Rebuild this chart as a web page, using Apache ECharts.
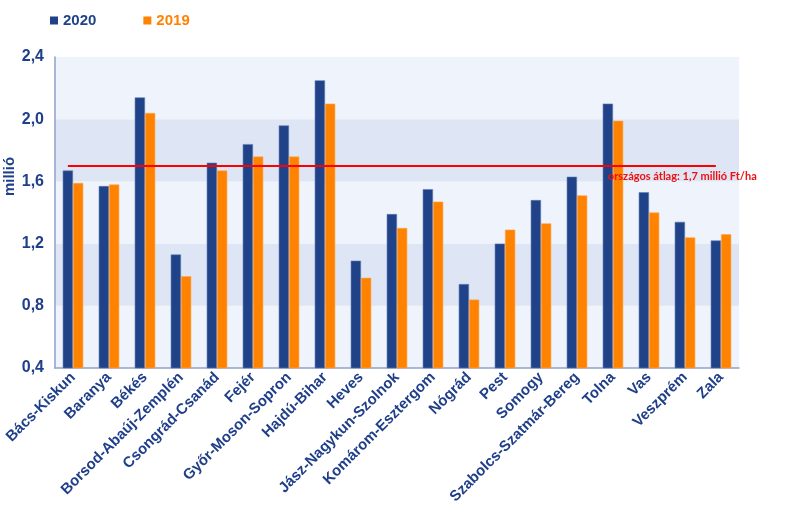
<!DOCTYPE html>
<html><head><meta charset="utf-8">
<script src="https://cdn.jsdelivr.net/npm/echarts@6/dist/echarts.min.js"></script>
<style>html,body{margin:0;padding:0;background:#fff}#c{width:800px;height:522px}</style>
</head><body><div id="c"></div>
<script>
var categories = ['Bács-Kiskun','Baranya','Békés','Borsod-Abaúj-Zemplén','Csongrád-Csanád','Fejér','Győr-Moson-Sopron','Hajdú-Bihar','Heves','Jász-Nagykun-Szolnok','Komárom-Esztergom','Nógrád','Pest','Somogy','Szabolcs-Szatmár-Bereg','Tolna','Vas','Veszprém','Zala'];
var values2020 = [1.67,1.57,2.14,1.13,1.72,1.84,1.96,2.25,1.09,1.39,1.55,0.94,1.20,1.48,1.63,2.10,1.53,1.34,1.22];
var values2019 = [1.59,1.58,2.04,0.99,1.67,1.76,1.76,2.10,0.98,1.30,1.47,0.84,1.29,1.33,1.51,1.99,1.40,1.24,1.26];
var average = 1.7;
var averageLabel = 'országos átlag: 1,7 millió Ft/ha';
var yTicks = [0.4, 0.8, 1.2, 1.6, 2.0, 2.4];
var seriesNames = ['2020', '2019'];

var blue = '#1f4288', orange = '#ff8200', txt = '#1f3f8a';
var chart = echarts.init(document.getElementById('c'), null, {renderer:'canvas'});
chart.setOption({
  animation: false,
  textStyle: {fontFamily: 'Liberation Sans, Arial, sans-serif'},
  legend: {
    data: [
      {name: seriesNames[0], textStyle: {color: blue}, itemStyle: {color: blue, borderWidth: 0}},
      {name: seriesNames[1], textStyle: {color: orange}, itemStyle: {color: orange, borderWidth: 0}}
    ],
    left: 45, top: 8, itemWidth: 8, itemHeight: 8, itemGap: 47,
    icon: 'rect',
    textStyle: {fontSize: 15, fontWeight: 'bold'}
  },
  grid: {left: 55, right: 61, top: 57, bottom: 154, containLabel: false, outerBoundsMode: 'none'},
  xAxis: {
    type: 'category', data: categories,
    axisLine: {lineStyle: {color: '#8fa2c8', width: 1.5}},
    axisTick: {show: false},
    axisLabel: {interval: 0, rotate: 45, fontSize: 15, fontWeight: 'bold', color: txt, margin: 7}
  },
  yAxis: {
    type: 'value', min: yTicks[0], max: yTicks[yTicks.length-1], interval: 0.4,
    name: 'millió', nameLocation: 'middle', nameRotate: 90, nameGap: 38, nameMoveOverlap: false,
    nameTextStyle: {fontSize: 15, fontWeight: 'bold', color: txt, padding: [0,0,0,72]},
    axisLine: {show: true, lineStyle: {color: '#8fa2c8', width: 1.5}},
    axisTick: {show: false},
    splitLine: {show: false},
    splitArea: {show: true, areaStyle: {color: ['#eff3fb', '#dee5f4']}},
    axisLabel: {fontSize: 16, fontWeight: 'bold', color: txt, margin: 11,
      formatter: function(v){ return v.toFixed(1).replace('.', ','); }}
  },
  series: [
    {name: seriesNames[0], type: 'bar', data: values2020, barGap: '0%', barCategoryGap: '43%',
     itemStyle: {color: blue, borderColor: '#5f7bb5', borderWidth: 0.6},
     markLine: {
       symbol: 'none', silent: true,
       lineStyle: {color: '#ff0000', width: 2, type: 'solid'},
       label: {show: false},
       data: [[{coord: [categories[0], average]}, {coord: [categories[categories.length-1], average]}]]
     },
     markPoint: {
       symbol: 'rect', symbolSize: 0, silent: true,
       label: {show: true, position: 'bottom', distance: 5, align: 'left', offset: [0, 0],
         formatter: averageLabel,
         color: '#f01010', fontSize: 11, fontWeight: 'bold', fontFamily: 'Lato, sans-serif'},
       data: [{coord: ['Tolna', average]}]
     },
     z: 2
    },
    {name: seriesNames[1], type: 'bar', data: values2019,
     itemStyle: {color: orange, borderColor: '#ffa64d', borderWidth: 0.6}, z: 2}
  ]
});
</script></body></html>
